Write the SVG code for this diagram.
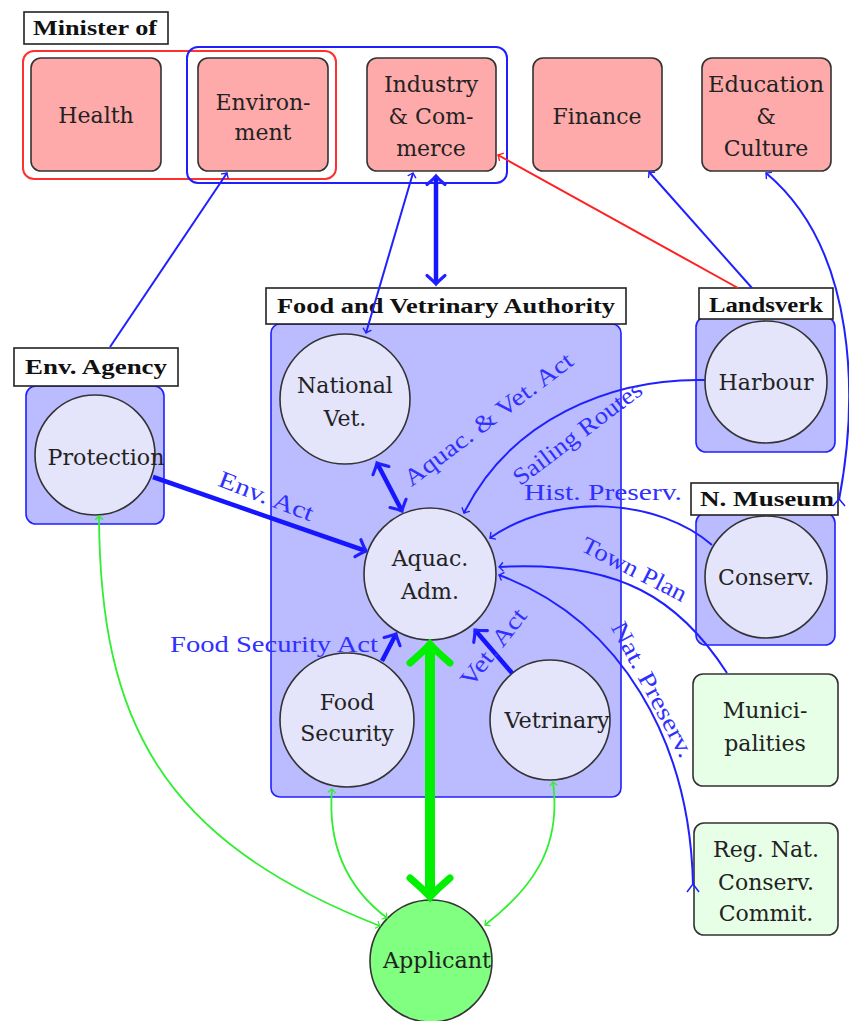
<svg xmlns="http://www.w3.org/2000/svg" width="849" height="1021" viewBox="0 0 849 1021" font-family="'Liberation Serif', 'Times New Roman', serif">
<defs>
<style>
.nt{font-family:'DejaVu Serif','Liberation Serif',serif;font-size:22px;fill:#222;text-anchor:middle}
.t{font-family:'Liberation Serif',serif;font-size:20px;font-weight:bold;fill:#111}
.lab{font-family:'Liberation Serif',serif;font-size:24px;fill:#3030ff;text-anchor:middle}
.min{fill:#ffaaaa;stroke:#333;stroke-width:1.6}
.grp{fill:#bbbbff;stroke:#2020ff;stroke-width:1.6}
.cir{fill:#e4e4fb;stroke:#333;stroke-width:1.6}
.tb{fill:#fff;stroke:#222;stroke-width:1.6}
.gb{fill:#e6ffe6;stroke:#333;stroke-width:1.6}
.bl{stroke:#2020ff;fill:none;stroke-width:2}
.bk{stroke:#1515ff;fill:none;stroke-width:4.5}
.rd{stroke:#ff2020;fill:none;stroke-width:2}
.gr{stroke:#30ee30;fill:none;stroke-width:1.8}
.gk{stroke:#00f000;fill:none;stroke-width:10}
</style>
<marker id="mB" markerUnits="strokeWidth" orient="auto-start-reverse" overflow="visible" refX="0" refY="0" markerWidth="1" markerHeight="1">
<path d="M-1.9,-2 Q-0.6,-0.5 0,0 Q-0.6,0.5 -1.9,2" fill="none" stroke="#2020ff" stroke-width="0.7" stroke-linecap="round"/>
</marker>
<marker id="mR" markerUnits="strokeWidth" orient="auto-start-reverse" overflow="visible" refX="0" refY="0" markerWidth="1" markerHeight="1">
<path d="M-1.9,-2 Q-0.6,-0.5 0,0 Q-0.6,0.5 -1.9,2" fill="none" stroke="#ff2020" stroke-width="0.7" stroke-linecap="round"/>
</marker>
<marker id="mG" markerUnits="strokeWidth" orient="auto-start-reverse" overflow="visible" refX="0" refY="0" markerWidth="1" markerHeight="1">
<path d="M-1.9,-2 Q-0.6,-0.5 0,0 Q-0.6,0.5 -1.9,2" fill="none" stroke="#30ee30" stroke-width="0.7" stroke-linecap="round"/>
</marker>
<marker id="mGk" markerUnits="strokeWidth" orient="auto-start-reverse" overflow="visible" refX="0" refY="0" markerWidth="1" markerHeight="1">
<path d="M-1.9,-2 Q-0.6,-0.5 0,0 Q-0.6,0.5 -1.9,2" fill="none" stroke="#00f000" stroke-width="0.7" stroke-linecap="round"/>
</marker>
</defs>
<rect width="849" height="1021" fill="#fff"/>

<g id="minister-group">
<rect x="24" y="12" width="144" height="32" class="tb"/>
<text x="33" y="35" class="t" textLength="124" lengthAdjust="spacingAndGlyphs">Minister of</text>
<rect x="23" y="51" width="313" height="128" rx="11" fill="none" stroke="#ff3030" stroke-width="2"/>
<rect x="187" y="47" width="320" height="136" rx="11" fill="none" stroke="#2020ff" stroke-width="2"/>
</g>
<g id="health"><rect x="31" y="58" width="130" height="113" rx="10" class="min"/><text x="96" y="123" class="nt">Health</text></g>
<g id="environment"><rect x="198" y="58" width="130" height="113" rx="10" class="min"/><text x="263" y="110" class="nt">Environ-</text><text x="263" y="140" class="nt">ment</text></g>
<g id="industry"><rect x="367" y="58" width="129" height="113" rx="10" class="min"/><text x="431" y="92" class="nt">Industry</text><text x="431" y="124" class="nt">&amp; Com-</text><text x="431" y="156" class="nt">merce</text></g>
<g id="finance"><rect x="533" y="58" width="129" height="113" rx="10" class="min"/><text x="597" y="124" class="nt">Finance</text></g>
<g id="education"><rect x="702" y="58" width="129" height="113" rx="10" class="min"/><text x="766" y="92" class="nt" textLength="116" lengthAdjust="spacingAndGlyphs">Education</text><text x="766" y="124" class="nt">&amp;</text><text x="766" y="156" class="nt">Culture</text></g>

<g id="food-vet-authority">
<rect x="271" y="324" width="350" height="473" rx="9" class="grp"/>
<rect x="266" y="288" width="360" height="36" class="tb"/>
<text x="277" y="313" class="t" textLength="338" lengthAdjust="spacingAndGlyphs">Food and Vetrinary Authority</text>
</g>
<g id="env-agency">
<rect x="26" y="386" width="138" height="138" rx="10" class="grp"/>
<rect x="14" y="348" width="164" height="38" class="tb"/>
<text x="25" y="374" class="t" textLength="142" lengthAdjust="spacingAndGlyphs">Env. Agency</text>
</g>
<g id="landsverk">
<rect x="696" y="317" width="139" height="135" rx="10" class="grp"/>
<rect x="699" y="288" width="134" height="31" class="tb"/>
<text x="709" y="312" class="t" textLength="114" lengthAdjust="spacingAndGlyphs">Landsverk</text>
</g>
<g id="n-museum">
<rect x="696" y="513" width="139" height="132" rx="10" class="grp"/>
<rect x="691" y="483" width="147" height="32" class="tb"/>
<text x="700" y="506" class="t" style="font-size:22px" textLength="134" lengthAdjust="spacingAndGlyphs">N. Museum</text>
</g>

<g id="national-vet"><circle cx="345" cy="399" r="65" class="cir"/><text x="345" y="393" class="nt">National</text><text x="345" y="426" class="nt">Vet.</text></g>
<g id="aquac-adm"><circle cx="430" cy="574" r="66" class="cir"/><text x="430" y="566" class="nt">Aquac.</text><text x="430" y="599" class="nt">Adm.</text></g>
<g id="food-security"><circle cx="347" cy="720" r="67" class="cir"/><text x="347" y="710" class="nt">Food</text><text x="347" y="741" class="nt">Security</text></g>
<g id="vetrinary"><circle cx="550" cy="720" r="60" class="cir"/><text x="557" y="728" class="nt" textLength="105" lengthAdjust="spacingAndGlyphs">Vetrinary</text></g>
<g id="protection"><circle cx="95" cy="455" r="60" class="cir"/><text x="106" y="465" class="nt" textLength="117" lengthAdjust="spacingAndGlyphs">Protection</text></g>
<g id="harbour"><circle cx="766" cy="382" r="61" class="cir"/><text x="766" y="390" class="nt">Harbour</text></g>
<g id="conserv"><circle cx="766" cy="577" r="61" class="cir"/><text x="766" y="585" class="nt">Conserv.</text></g>
<g id="municipalities"><rect x="693" y="674" width="145" height="112" rx="10" class="gb"/><text x="765" y="718" class="nt">Munici-</text><text x="765" y="751" class="nt">palities</text></g>
<g id="reg-nat-conserv"><rect x="694" y="823" width="144" height="112" rx="10" class="gb"/><text x="766" y="857" class="nt">Reg. Nat.</text><text x="766" y="890" class="nt">Conserv.</text><text x="766" y="921" class="nt">Commit.</text></g>
<g id="applicant"><circle cx="431" cy="961" r="61" fill="#80ff80" stroke="#333" stroke-width="1.6"/><text x="437" y="968" class="nt" textLength="108" lengthAdjust="spacingAndGlyphs">Applicant</text></g>

<g id="connectors">
<line x1="110" y1="347" x2="227" y2="173" class="bl" marker-end="url(#mB)"/>
<line x1="366" y1="333" x2="413" y2="173" class="bl" marker-start="url(#mB)" marker-end="url(#mB)"/>
<line x1="436" y1="176" x2="436" y2="284" class="bk" marker-start="url(#mB)" marker-end="url(#mB)"/>
<line x1="738" y1="288" x2="498" y2="155" class="rd" marker-end="url(#mR)"/>
<line x1="752" y1="288" x2="649" y2="172" class="bl" marker-end="url(#mB)"/>
<path d="M839,500 C858,400 858,250 766,173" class="bl" marker-end="url(#mB)"/>
<path d="M833,506 L839,499 L845,506" fill="none" stroke="#2020ff" stroke-width="1.5"/>
<line x1="153" y1="477" x2="366" y2="551" class="bk" marker-end="url(#mB)"/>
<line x1="377" y1="463" x2="402" y2="511" class="bk" marker-start="url(#mB)" marker-end="url(#mB)"/>
<line x1="382" y1="661" x2="396" y2="634" class="bk" marker-end="url(#mB)"/>
<line x1="512" y1="673" x2="475" y2="630" class="bk" marker-end="url(#mB)"/>
<line x1="430" y1="644" x2="430" y2="897" class="gk" marker-start="url(#mGk)" marker-end="url(#mGk)"/>
<path d="M99,516 C100,720 160,840 380,926" class="gr" marker-start="url(#mG)" marker-end="url(#mG)"/>
<path d="M332,789 C327,850 350,890 387,918" class="gr" marker-start="url(#mG)" marker-end="url(#mG)"/>
<path d="M553,782 C562,850 530,890 485,925" class="gr" marker-start="url(#mG)" marker-end="url(#mG)"/>
<path d="M705,380 C610,378 510,420 464,513" class="bl" marker-end="url(#mB)"/>
<path d="M712,545 C660,500 560,490 490,538" class="bl" marker-end="url(#mB)"/>
<path d="M727,673 C680,600 620,560 499,567" class="bl" marker-end="url(#mB)"/>
<path d="M693,885 C690,740 620,620 499,575" class="bl" marker-end="url(#mB)"/>
<path d="M687,892 L693,884 L699,892" fill="none" stroke="#2020ff" stroke-width="1.5"/>
</g>

<g id="edge-labels">
<text transform="translate(266,497) rotate(21)" y="7" class="lab" textLength="100" lengthAdjust="spacingAndGlyphs">Env. Act</text>
<text transform="translate(489,420) rotate(-37)" y="7" class="lab" textLength="205" lengthAdjust="spacingAndGlyphs">Aquac. &amp; Vet. Act</text>
<text transform="translate(578,434) rotate(-37)" y="7" class="lab" textLength="155" lengthAdjust="spacingAndGlyphs">Sailing Routes</text>
<text x="603" y="500" class="lab" textLength="158" lengthAdjust="spacingAndGlyphs">Hist. Preserv.</text>
<text transform="translate(634,570) rotate(27)" y="7" class="lab" textLength="115" lengthAdjust="spacingAndGlyphs">Town Plan</text>
<text transform="translate(652,690) rotate(62)" y="7" class="lab" textLength="150" lengthAdjust="spacingAndGlyphs">Nat. Preserv.</text>
<text x="274" y="652" class="lab" textLength="208" lengthAdjust="spacingAndGlyphs">Food Security Act</text>
<text transform="translate(494,648) rotate(-52)" y="7" class="lab" textLength="92" lengthAdjust="spacingAndGlyphs">Vet. Act</text>
</g>
</svg>
